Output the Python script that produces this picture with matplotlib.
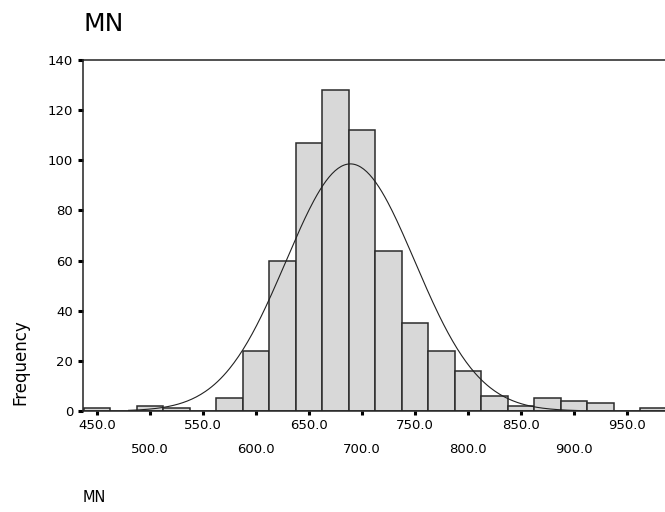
import numpy as np
import matplotlib
matplotlib.use("Agg")
import matplotlib.pyplot as plt

# MN histogram, bins of width 25 centred on multiples of 25
bin_centers = [450, 475, 500, 525, 550, 575, 600, 625, 650, 675, 700,
               725, 750, 775, 800, 825, 850, 875, 900, 925, 950, 975]
counts = [1, 0, 2, 1, 0, 5, 24, 60, 107, 128, 112,
          64, 35, 24, 16, 6, 2, 5, 4, 3, 0, 1]
bin_width = 25

upper_ticks = [450, 550, 650, 750, 850, 950]
lower_ticks = [500, 600, 700, 800, 900]
y_ticks = [0, 20, 40, 60, 80, 100, 120, 140]

# normal curve drawn over the range of the data
curve_lo, curve_hi = 480, 905

plt.rcParams['font.family'] = ['DejaVu Sans']

centers = np.array(bin_centers, dtype=float)
n = np.array(counts, dtype=float)
total = n.sum()
mean = (centers * n).sum() / total
sd = np.sqrt((n * (centers - mean) ** 2).sum() / (total - 1))

fig = plt.figure(figsize=(6.65, 5.12), dpi=100)
ax = fig.add_axes([83 / 665, 101 / 512, 1 - 83 / 665, 351 / 512])

ax.bar(centers, n, width=bin_width, color='#d8d8d8', edgecolor='#2b2b2b',
       linewidth=1.1, zorder=2)

xs = np.linspace(curve_lo, curve_hi, 300)
ys = total * bin_width / (sd * np.sqrt(2 * np.pi)) * np.exp(-0.5 * ((xs - mean) / sd) ** 2)
ax.plot(xs, ys, color='#222222', linewidth=0.8, zorder=3)

ax.set_xlim(437, 986)
ax.set_ylim(0, 140)

ax.spines['right'].set_visible(False)
for s in ['left', 'top', 'bottom']:
    ax.spines[s].set_linewidth(1.1)
    ax.spines[s].set_color('#222222')

ax.set_yticks(y_ticks)
ax.set_yticklabels([str(v) for v in y_ticks])
ax.tick_params(axis='y', direction='out', length=3.5, width=2.2, pad=3.5,
               labelsize=9.5, color='black')

# staggered x labels: two rows
ax.set_xticks(upper_ticks)
ax.set_xticklabels(['%.1f' % v for v in upper_ticks])
ax.set_xticks(lower_ticks, minor=True)
ax.set_xticklabels(['%.1f' % v for v in lower_ticks], minor=True)
ax.tick_params(axis='x', which='major', direction='out', length=3, width=2.2,
               pad=2.5, labelsize=9.5, color='black')
ax.tick_params(axis='x', which='minor', direction='out', length=3, width=2.2,
               pad=20, labelsize=9.5, color='black')

fig.text(83 / 665, 1 - 24 / 512, 'MN', fontsize=18, ha='left', va='center')
fig.text(20 / 665, 1 - 362 / 512, 'Frequency', fontsize=12, rotation=90,
         ha='center', va='center')
fig.text(83 / 665, 1 - 498 / 512, 'MN', fontsize=10.5, ha='left', va='center')

fig.savefig('out.png', dpi=100)
